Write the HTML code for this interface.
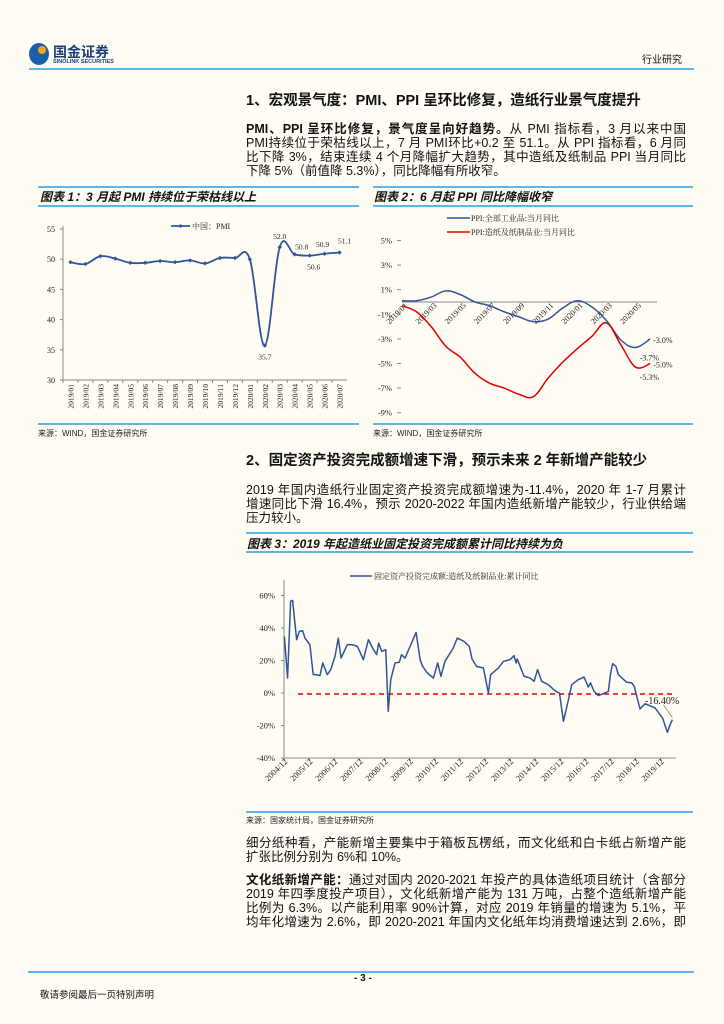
<!DOCTYPE html>
<html><head><meta charset="utf-8">
<style>
body{margin:0;background:#fffcf3;}
#page{position:relative;width:724px;height:1024px;overflow:hidden;background:#fffcf3;font-family:"Liberation Sans","Noto Sans CJK SC",sans-serif;color:#111;}
.abs{position:absolute;}
.ln{position:absolute;left:246px;width:440px;font-size:12.5px;line-height:14px;text-align:justify;text-align-last:justify;white-space:nowrap;}
.hr{position:absolute;height:2px;background:#5bb8e6;}
.ct{position:absolute;font-size:12px;font-weight:bold;font-style:italic;}
.src{position:absolute;font-size:8px;color:#222;}
svg text{font-family:"Liberation Serif","Noto Serif CJK SC",serif;}
</style></head><body>
<div id="page">
<div class="abs" style="left:29px;top:42px;width:102px;height:24px;">
 <div class="abs" style="left:0;top:1px;width:20px;height:22px;border-radius:50%;background:#1a5ea8;"></div>
 <div class="abs" style="left:9px;top:4px;width:8px;height:8px;border-radius:50%;background:#f2a51b;"></div>
 <div class="abs" style="left:24px;top:0;font-size:14px;font-weight:bold;color:#1a3f7a;">国金证券</div>
 <div class="abs" style="left:24px;top:17px;font-size:5.5px;font-weight:bold;color:#1a3f7a;white-space:nowrap;">SINOLINK SECURITIES</div>
</div>
<div class="abs" style="left:642px;top:51px;font-size:10px;">行业研究</div>
<div class="hr" style="left:29px;top:68px;width:665px;"></div>

<div class="abs" style="left:246px;top:89px;font-size:14.5px;font-weight:bold;white-space:nowrap;">1、宏观景气度：PMI、PPI 呈环比修复，造纸行业景气度提升</div>
<div class="ln" style="top:122px;"><b>PMI、PPI 呈环比修复，景气度呈向好趋势。</b>从 PMI 指标看，3 月以来中国</div>
<div class="ln" style="top:136px;">PMI持续位于荣枯线以上，7 月 PMI环比+0.2 至 51.1。从 PPI 指标看，6 月同</div>
<div class="ln" style="top:150px;">比下降 3%，结束连续 4 个月降幅扩大趋势，其中造纸及纸制品 PPI 当月同比</div>
<div class="abs" style="left:246px;top:164px;font-size:12.5px;line-height:14px;white-space:nowrap;">下降 5%（前值降 5.3%），同比降幅有所收窄。</div>

<div class="hr" style="left:38px;top:186px;width:321px;"></div>
<div class="ct" style="left:40px;top:188px;">图表 1：3 月起 PMI 持续位于荣枯线以上</div>
<div class="hr" style="left:38px;top:205px;width:321px;"></div>
<div class="hr" style="left:373px;top:186px;width:320px;"></div>
<div class="ct" style="left:374px;top:188px;">图表 2：6 月起 PPI 同比降幅收窄</div>
<div class="hr" style="left:373px;top:205px;width:320px;"></div>

<div class="hr" style="left:38px;top:423px;width:321px;"></div>
<div class="src" style="left:38px;top:428px;">来源：WIND，国金证券研究所</div>
<div class="hr" style="left:373px;top:423px;width:320px;"></div>
<div class="src" style="left:373px;top:428px;">来源：WIND，国金证券研究所</div>

<div class="abs" style="left:246px;top:449px;font-size:14.5px;font-weight:bold;white-space:nowrap;">2、固定资产投资完成额增速下滑，预示未来 2 年新增产能较少</div>
<div class="ln" style="top:483px;">2019 年国内造纸行业固定资产投资完成额增速为-11.4%，2020 年 1-7 月累计</div>
<div class="ln" style="top:497px;">增速同比下滑 16.4%，预示 2020-2022 年国内造纸新增产能较少，行业供给端</div>
<div class="abs" style="left:246px;top:511px;font-size:12.5px;line-height:14px;">压力较小。</div>

<div class="hr" style="left:246px;top:532px;width:447px;"></div>
<div class="ct" style="left:247px;top:535px;">图表 3：2019 年起造纸业固定投资完成额累计同比持续为负</div>
<div class="hr" style="left:246px;top:551px;width:447px;"></div>
<div class="hr" style="left:246px;top:811px;width:447px;"></div>
<div class="src" style="left:246px;top:815px;">来源：国家统计局，国金证券研究所</div>

<div class="ln" style="top:836px;">细分纸种看，产能新增主要集中于箱板瓦楞纸，而文化纸和白卡纸占新增产能</div>
<div class="abs" style="left:246px;top:850px;font-size:12.5px;line-height:14px;">扩张比例分别为 6%和 10%。</div>
<div class="ln" style="top:873px;"><b>文化纸新增产能：</b>通过对国内 2020-2021 年投产的具体造纸项目统计（含部分</div>
<div class="ln" style="top:887px;">2019 年四季度投产项目），文化纸新增产能为 131 万吨，占整个造纸新增产能</div>
<div class="ln" style="top:901px;">比例为 6.3%。以产能利用率 90%计算，对应 2019 年销量的增速为 5.1%，平</div>
<div class="ln" style="top:915px;">均年化增速为 2.6%，即 2020-2021 年国内文化纸年均消费增速达到 2.6%，即</div>

<div class="hr" style="left:28px;top:971px;width:666px;"></div>
<div class="abs" style="left:354px;top:973px;font-size:10px;font-weight:bold;">- 3 -</div>
<div class="abs" style="left:40px;top:987px;font-size:9.5px;">敬请参阅最后一页特别声明</div>

<svg id="svg" width="724" height="1024" style="position:absolute;left:0;top:0;"></svg>
</div>
<script>
// ---- Chart 1 data ----
const pmiCats=["2019/01","2019/02","2019/03","2019/04","2019/05","2019/06","2019/07","2019/08","2019/09","2019/10","2019/11","2019/12","2020/01","2020/02","2020/03","2020/04","2020/05","2020/06","2020/07"];
const pmiVals=[49.5,49.2,50.5,50.1,49.4,49.4,49.7,49.5,49.8,49.3,50.2,50.2,50.0,35.7,52.0,50.8,50.6,50.9,51.1];
const pmiTicks=[30,35,40,45,50,55];
const pmiLabelIdx=[13,14,15,16,17,18];
// ---- Chart 2 data ----
const ppiCats=["2019/01","2019/02","2019/03","2019/04","2019/05","2019/06","2019/07","2019/08","2019/09","2019/10","2019/11","2019/12","2020/01","2020/02","2020/03","2020/04","2020/05","2020/06"];
const ppiAll=[0.1,0.1,0.4,0.9,0.6,0.0,-0.3,-0.8,-1.2,-1.6,-1.4,-0.5,0.1,-0.4,-1.5,-3.1,-3.7,-3.0];
const ppiPaper=[-0.3,-0.8,-2.0,-3.6,-4.5,-5.8,-6.6,-7.0,-7.5,-7.7,-6.2,-4.9,-3.8,-2.8,-1.7,-3.5,-5.3,-5.0];
const ppiTicks=[5,3,1,-1,-3,-5,-7,-9];
// ---- Chart 3 data ----
const faiDates=[2004.93,2005.06,2005.18,2005.26,2005.42,2005.53,2005.66,2005.75,2005.95,2006.08,2006.19,2006.35,2006.46,2006.64,2006.78,2006.95,2007.08,2007.19,2007.44,2007.65,2007.84,2008.08,2008.28,2008.48,2008.61,2008.69,2008.81,2008.97,2009.07,2009.17,2009.34,2009.51,2009.60,2009.74,2009.94,2010.18,2010.34,2010.44,2010.63,2010.87,2011.04,2011.17,2011.33,2011.66,2011.82,2012.09,2012.30,2012.41,2012.59,2012.86,2013.06,2013.15,2013.46,2013.66,2013.92,2014.08,2014.16,2014.21,2014.48,2014.72,2014.88,2015.02,2015.18,2015.45,2015.71,2015.89,2016.05,2016.25,2016.38,2016.64,2016.87,2017.04,2017.13,2017.27,2017.44,2017.61,2017.84,2017.93,2018.01,2018.14,2018.24,2018.57,2018.77,2018.87,2019.10,2019.30,2019.70,2020.00,2020.19,2020.30,2020.39];
const faiVals=[34.9,9.2,56.4,57.0,32.8,37.9,38.3,33.8,29.7,11.3,11.3,10.7,18.5,11.3,14.4,22.6,33.8,21.5,29.7,29.7,28.7,20.5,32.8,26.7,23.6,30.8,25.6,26.7,-11.3,8.2,18.5,18.9,23.6,21.5,28.7,37.3,20.5,16.4,12.3,9.2,18.5,10.3,19.5,27.7,33.8,31.8,28.7,20.9,16.4,15.4,0.0,11.3,15.4,19.5,20.5,23.0,18.5,20.9,10.3,9.2,7.2,14.4,7.2,5.1,1.4,0.0,-17.4,-4.1,5.1,8.2,9.8,3.7,6.2,1.0,-1.6,-0.6,1.0,12.3,18.0,16.4,11.3,6.6,6.2,4.1,-9.8,-6.6,-9.2,-15.4,-24.2,-19.5,-16.4];
const faiTicks=[60,40,20,0,-20,-40];
const faiYearLabels=["2004/12","2005/12","2006/12","2007/12","2008/12","2009/12","2010/12","2011/12","2012/12","2013/12","2014/12","2015/12","2016/12","2017/12","2018/12","2019/12"];

const NS="http://www.w3.org/2000/svg";
const svg=document.getElementById('svg');
function mk(tag,attrs,parent){const e=document.createElementNS(NS,tag);for(const k in attrs)e.setAttribute(k,attrs[k]);(parent||svg).appendChild(e);return e;}
function smooth(pts){let d="M"+pts[0][0]+","+pts[0][1];for(let i=0;i<pts.length-1;i++){const p0=pts[i-1]||pts[i],p1=pts[i],p2=pts[i+1],p3=pts[i+2]||p2;const t=0.18;d+=" C"+(p1[0]+(p2[0]-p0[0])*t)+","+(p1[1]+(p2[1]-p0[1])*t)+" "+(p2[0]-(p3[0]-p1[0])*t)+","+(p2[1]-(p3[1]-p1[1])*t)+" "+p2[0]+","+p2[1];}return d;}
function txt(x,y,s,size,anchor,extra){const t=mk('text',Object.assign({x:x,y:y,'font-size':size,'text-anchor':anchor||'start',fill:'#222'},extra||{}));t.textContent=s;return t;}

// ===== Chart 1 =====
const c1x0=63,c1x1=347,c1y=v=>380-(v-30)*6.04;
const c1bw=(c1x1-c1x0)/pmiCats.length;
const c1x=i=>c1x0+c1bw*(i+0.5);
mk('line',{x1:c1x0,y1:226,x2:c1x0,y2:380,stroke:'#888','stroke-width':1});
mk('line',{x1:c1x0,y1:380,x2:c1x1,y2:380,stroke:'#888','stroke-width':1});
pmiTicks.forEach(v=>{const y=c1y(v);mk('line',{x1:c1x0-3,y1:y,x2:c1x0,y2:y,stroke:'#888'});const t=txt(c1x0-8,y+3,v,8,'end');});
pmiCats.forEach((c,i)=>{const x=c1x0+c1bw*i;mk('line',{x1:x,y1:380,x2:x,y2:383,stroke:'#888'});const t=txt(0,0,c,7.5,'end',{transform:`translate(${c1x(i)+3},384) rotate(-90)`});});
const p1=mk('path',{d:smooth(pmiVals.map((v,i)=>[c1x(i),c1y(v)])),fill:'none',stroke:'#2f5597','stroke-width':1.8});

pmiVals.forEach((v,i)=>{const m=mk('path',{d:`M${c1x(i)-2.2},${c1y(v)}L${c1x(i)},${c1y(v)-2.2}L${c1x(i)+2.2},${c1y(v)}L${c1x(i)},${c1y(v)+2.2}Z`,fill:'#2f5597'});});
const lblOff=[[0,14],[0,-8],[7,-5],[4,14],[-2,-7],[5,-9]];
pmiLabelIdx.forEach((idx,k)=>{const t=txt(c1x(idx)+lblOff[k][0],c1y(pmiVals[idx])+lblOff[k][1],pmiVals[idx].toFixed(1),7.5,'middle');});
mk('line',{x1:171,y1:226,x2:190,y2:226,stroke:'#2f5597','stroke-width':1.8});
mk('path',{d:'M178.5,226L180.5,224L182.5,226L180.5,228Z',fill:'#2f5597'});
const l1=txt(192,229,'中国：PMI',8);

// ===== Chart 2 =====
const c2x0=402,c2x1=657,c2y=v=>302-v*12.3;
const c2x=i=>c2x0+i*14.6;
mk('line',{x1:c2x0,y1:c2y(0),x2:c2x1,y2:c2y(0),stroke:'#888'});
ppiTicks.forEach(v=>{const y=c2y(v);mk('line',{x1:397,y1:y,x2:401,y2:y,stroke:'#888'});const t=txt(392,y+3,v+'%',8.5,'end');});
ppiCats.forEach((c,i)=>{if(i%2)return;const t=txt(0,0,c,8,'end',{transform:`translate(${c2x(i)+6},${c2y(0)+4}) rotate(-45)`});});
const pa=mk('path',{d:smooth(ppiAll.map((v,i)=>[c2x(i),c2y(v)])),fill:'none',stroke:'#2f5597','stroke-width':1.5});

const pp=mk('path',{d:smooth(ppiPaper.map((v,i)=>[c2x(i),c2y(v)])),fill:'none',stroke:'#e00000','stroke-width':1.5});

const nA=ppiAll.length-1,nP=ppiPaper.length-1;
[[c2x(nA)+3,c2y(ppiAll[nA])+4,ppiAll[nA]],[c2x(nA-1)+4,c2y(ppiAll[nA-1])+13,ppiAll[nA-1]],[c2x(nP)+3,c2y(ppiPaper[nP])+4,ppiPaper[nP]],[c2x(nP-1)+4,c2y(ppiPaper[nP-1])+13,ppiPaper[nP-1]]].forEach(a=>{const t=txt(a[0],a[1],a[2].toFixed(1)+'%',8,a===undefined?'start':'start');});
mk('line',{x1:447,y1:218,x2:470,y2:218,stroke:'#2f5597','stroke-width':1.5});
const l2a=txt(471,221,'PPI:全部工业品:当月同比',8);
mk('line',{x1:447,y1:232,x2:470,y2:232,stroke:'#e00000','stroke-width':1.5});
const l2b=txt(471,235,'PPI:造纸及纸制品业:当月同比',8);

// ===== Chart 3 =====
const c3x=t=>284+(t-2004.917)*25.1,c3y=v=>693-v*1.625;
mk('line',{x1:284,y1:580,x2:284,y2:758,stroke:'#888'});
mk('line',{x1:284,y1:758,x2:676,y2:758,stroke:'#888'});
faiTicks.forEach(v=>{const y=c3y(v);mk('line',{x1:281,y1:y,x2:284,y2:y,stroke:'#888'});const t=txt(275,y+3,v+'%',8.5,'end');});
faiYearLabels.forEach((s,i)=>{const x=c3x(2004.917+i);mk('line',{x1:x,y1:758,x2:x,y2:761,stroke:'#888'});const t=txt(0,0,s,8.5,'end',{transform:`translate(${x+4},${762}) rotate(-45)`});});
const zl=mk('line',{x1:298,y1:c3y(0)+1,x2:672,y2:c3y(0)+1,stroke:'#e00000','stroke-width':1.5,'stroke-dasharray':'5,4'});

const p3=mk('path',{d:"M"+faiDates.map((t,i)=>c3x(t)+","+c3y(faiVals[i])).join(" L"),fill:'none',stroke:'#2f5597','stroke-width':1.5,'stroke-linejoin':'round'});

const last=faiVals.length-1;
mk('line',{x1:c3x(faiDates[last]),y1:c3y(faiVals[last])-2,x2:c3x(faiDates[last])-9,y2:c3y(faiVals[last])-15,stroke:'#666','stroke-width':0.6});
const l3v=txt(645,704,faiVals[last].toFixed(2)+'%',10);
mk('line',{x1:350,y1:576,x2:372,y2:576,stroke:'#2f5597','stroke-width':1.5});
const l3=txt(374,579,'固定资产投资完成额:造纸及纸制品业:累计同比',8);
</script>
</body></html>
